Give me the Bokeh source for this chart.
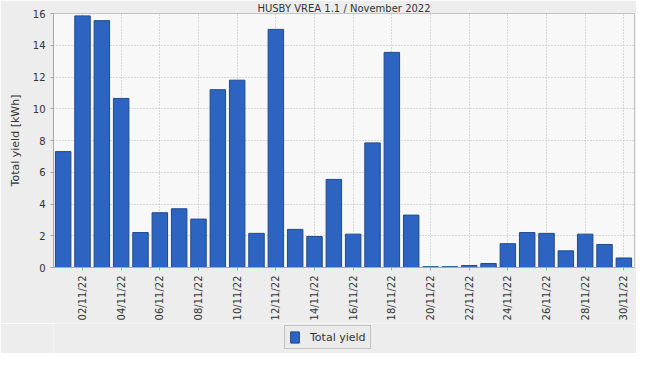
from bokeh.plotting import figure
from bokeh.models import ColumnDataSource, FixedTicker, Legend, LegendItem
from bokeh.layouts import column
from bokeh.embed import file_html
from bokeh.resources import INLINE
import math

title_text = "HUSBY VREA 1.1 / November 2022"
dates = ["01/11/22", "02/11/22", "03/11/22", "04/11/22", "05/11/22", "06/11/22",
         "07/11/22", "08/11/22", "09/11/22", "10/11/22", "11/11/22", "12/11/22",
         "13/11/22", "14/11/22", "15/11/22", "16/11/22", "17/11/22", "18/11/22",
         "19/11/22", "20/11/22", "21/11/22", "22/11/22", "23/11/22", "24/11/22",
         "25/11/22", "26/11/22", "27/11/22", "28/11/22", "29/11/22", "30/11/22"]
yield_kwh = [7.3, 15.85, 15.55, 10.65, 2.2, 3.45, 3.7, 3.05, 11.2, 11.8,
             2.15, 15.0, 2.4, 1.95, 5.55, 2.1, 7.85, 13.55, 3.3, 0.05,
             0.05, 0.12, 0.25, 1.5, 2.2, 2.15, 1.05, 2.1, 1.45, 0.6]
series_name = "Total yield"
y_label = "Total yield [kWh]"

days = list(range(1, len(dates) + 1))
src = ColumnDataSource(dict(day=days, val=yield_kwh, label=dates))

FONT = "DejaVu Sans"
BAR_FILL = "#2d64c1"
BAR_LINE = "#1f4a8c"
OUTER = "#ededed"

p = figure(width=636, height=323, output_backend="svg", toolbar_location=None,
           x_range=(0.5, 30.55), y_range=(0, 16), title=title_text)
p.min_border_left = 53
p.min_border_right = 2
p.min_border_top = 12
p.min_border_bottom = 20
p.border_fill_color = OUTER
p.background_fill_color = "#f8f8f8"
p.outline_line_color = "#c4c4c4"

p.title.text_font = FONT
p.title.text_font_size = "10px"
p.title.text_font_style = "normal"
p.title.text_color = "#333333"
p.title.align = "center"
p.title.standoff = 0
p.title.offset = 0

r = p.vbar(x="day", top="val", width=0.8, source=src,
           fill_color=BAR_FILL, line_color=BAR_LINE, line_width=1)

even_days = [d for d in days if d % 2 == 0]
p.xaxis.ticker = FixedTicker(ticks=even_days)
p.xaxis.major_label_overrides = {d: dates[d - 1] for d in even_days}
p.xaxis.major_label_orientation = math.pi / 2
p.xaxis.major_label_standoff = 5
p.yaxis.ticker = FixedTicker(ticks=list(range(0, 17, 2)))

for ax in (p.xaxis[0], p.yaxis[0]):
    ax.major_label_text_font = FONT
    ax.major_label_text_font_size = "10px"
    ax.major_label_text_color = "#333333"
    ax.axis_line_color = "#a8a8a8"
    ax.major_tick_line_color = "#a8a8a8"
    ax.major_tick_in = 0
    ax.major_tick_out = 3
    ax.minor_tick_line_color = None

p.yaxis.axis_label = y_label
p.yaxis.axis_label_text_font = FONT
p.yaxis.axis_label_text_font_size = "11px"
p.yaxis.axis_label_text_font_style = "normal"
p.yaxis.axis_label_text_color = "#333333"
p.yaxis.axis_label_standoff = 8

p.grid.grid_line_color = "#b8b8b8"
p.grid.grid_line_dash = "1 2"
p.grid.grid_line_width = 1

# legend strip below the chart; its proxy bars lie below its visible y range
lg = figure(width=636, height=30, output_backend="svg", toolbar_location=None,
            x_range=(0.5, 30.55), y_range=(100, 101), x_axis_type=None, y_axis_type=None)
lg.grid.visible = False
lg.outline_line_color = None
lg.border_fill_color = OUTER
lg.background_fill_color = OUTER
lg.min_border = 0
proxy = lg.vbar(x="day", top="val", width=0.8, source=src,
                fill_color=BAR_FILL, line_color=BAR_LINE, line_width=1)

legend = Legend(items=[LegendItem(label=series_name, renderers=[proxy])],
                location=(231, 4), orientation="horizontal")
legend.label_text_font = FONT
legend.label_text_font_size = "11px"
legend.label_text_color = "#333333"
legend.glyph_width = 11
legend.glyph_height = 14
legend.padding = 4
legend.margin = 0
legend.spacing = 0
legend.label_standoff = 10
legend.label_height = 14
legend.border_line_color = "#9a9a9a"
legend.background_fill_color = "#ebebeb"
legend.background_fill_alpha = 1
lg.add_layout(legend, "center")

layout = column(p, lg, spacing=0)
open("out.html", "w").write(file_html(layout, INLINE))
